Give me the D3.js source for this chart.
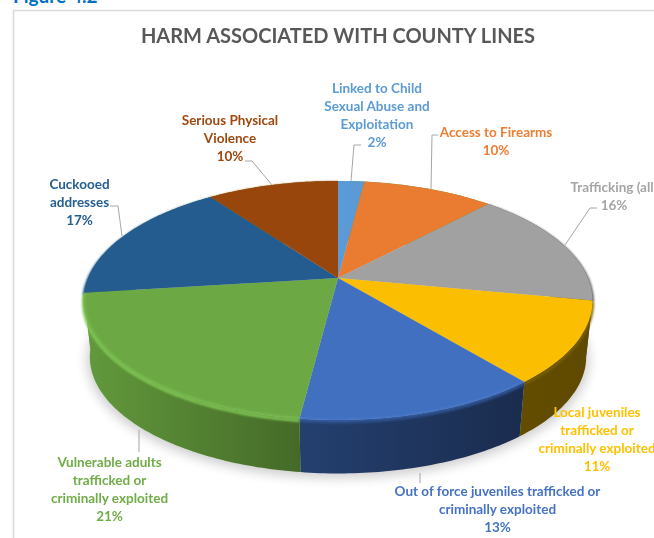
<!DOCTYPE html>
<html><head><meta charset="utf-8">
<script src="https://cdnjs.cloudflare.com/ajax/libs/d3/7.8.5/d3.min.js"></script>
<style>html,body{margin:0;padding:0;background:#fff;overflow:hidden}svg{display:block}text{font-family:Lato,"Open Sans",sans-serif;font-weight:700}</style>
</head><body><svg id="c" width="654" height="538"></svg>
<script>
const categories=["Linked to Child Sexual Abuse and Exploitation","Access to Firearms","Trafficking (all)","Local juveniles trafficked or criminally exploited","Out of force juveniles trafficked or criminally exploited","Vulnerable adults trafficked or criminally exploited","Cuckooed addresses","Serious Physical Violence"];
const values=[2,10,16,11,13,21,17,10];
const topColors=["#5b9ad5","#e97c30","#a1a1a1","#fbbe00","#4170c0","#6ca945","#255c8f","#99460c"];
const sideLight=["#629a3c","#629a3c","#6b6b6b","#614c00","#24406f","#629a3c","#629a3c","#629a3c"];
const sideDark=["#629a3c","#629a3c","#4a4a4a","#5f4a00","#1a2c4e","#456a28","#629a3c","#629a3c"];
const rimColors=["#5b9ad5","#e97c30","#5a5a5a","#7a6000","#2f5190","#82c956","#255c8f","#99460c"];
const labelLines=[["Linked to Child","Sexual Abuse and","Exploitation","2%"],["Access to Firearms","10%"],["Trafficking (all)","16%"],["Local juveniles","trafficked or","criminally exploited","11%"],["Out of force juveniles trafficked or","criminally exploited","13%"],["Vulnerable adults","trafficked or","criminally exploited","21%"],["Cuckooed","addresses","17%"],["Serious Physical","Violence","10%"]];
const labelColors=["#5b9bd5","#ed7d31","#a5a5a5","#ffc000","#4472c4","#70ad47","#255e91","#9e480e"];
const labelAnchors=[[377,93],[496,137],[614,192],[597,417],[497.5,495.5],[109.5,467],[79.5,189],[230,125]];
const leaderPts=[[[361,145],[354,145],[351,181]],[[438,135],[432,135],[431,189]],[[597,208],[590,208],[565,245]],[],[[420,473],[420,483]],[[139,430],[139,452]],[[110,206],[118,206],[122,236]],[[245,161],[252,161],[272,185]]];
const svg=d3.select("#c"),defs=svg.append("defs");
const cx=338,cy=278,A=250,B=115.3,K=0.188,DZ=57,S=0.975;
const proj=(t,s,dz)=>{const X=Math.sin(t),Y=Math.cos(t),w=1+K*Y;return [cx+s*A*X/w,cy+dz-s*B*Y/w];};
const arcs=d3.pie().sort(null).value(d=>d)(values);
const line=d3.line();
const sample=(a,b,s,dz)=>{const n=Math.max(2,Math.ceil((b-a)*60));return d3.range(n+1).map(i=>proj(a+(b-a)*i/n,s,dz));};
const f=defs.append("filter").attr("id","bl").attr("x","-20%").attr("y","-20%").attr("width","140%").attr("height","140%");f.append("feGaussianBlur").attr("stdDeviation",6);
const f2=defs.append("filter").attr("id","soft").attr("filterUnits","userSpaceOnUse").attr("x",0).attr("y",0).attr("width",654).attr("height",538);f2.append("feGaussianBlur").attr("stdDeviation",1.1);
const ft=defs.append("filter").attr("id","tb");ft.append("feGaussianBlur").attr("stdDeviation",0.3);
// frame
svg.append("path").attr("d","M654,10.5H13.5V538").attr("fill","none").attr("stroke","#d9d9d9").attr("stroke-width",1.5);
svg.append("text").attr("x",13).attr("y",3).attr("font-size",19).attr("fill","#0070c0").text("Figure 4.2");
svg.append("text").attr("x",338).attr("y",43).attr("text-anchor","middle").attr("font-size",20).attr("fill","#595959").attr("filter","url(#tb)").text("HARM ASSOCIATED WITH COUNTY LINES");
// shadow
svg.append("path").attr("d",line(sample(0,2*Math.PI,0.985,DZ+3))+"Z").attr("fill","#000").attr("opacity",0.2).attr("filter","url(#bl)");
// sides
arcs.forEach((d,i)=>{
  const id="g"+i,g=defs.append("linearGradient").attr("id",id).attr("gradientUnits","userSpaceOnUse");
  const p0=proj(d.startAngle,1,0),p1=proj(d.endAngle,1,0);
  g.attr("x1",Math.min(p0[0],p1[0])).attr("x2",Math.max(p0[0],p1[0])).attr("y1",0).attr("y2",0);
  g.append("stop").attr("offset",0).attr("stop-color",sideLight[i]);
  g.append("stop").attr("offset",1).attr("stop-color",sideDark[i]);
  const pts=sample(d.startAngle,d.endAngle,1,0).concat(sample(d.startAngle,d.endAngle,S,DZ).reverse());
  svg.append("path").attr("d",line(pts)+"Z").attr("fill",`url(#${id})`);
});
// soft rim shade where the wall meets the top
arcs.forEach((d,i)=>{
  svg.append("path").attr("d",line(sample(d.startAngle,d.endAngle,1,2))).attr("fill","none").attr("stroke",rimColors[i]).attr("stroke-width",3).attr("filter","url(#soft)").attr("opacity",d.endAngle<1.5?0:0.95);
});
// top
arcs.forEach((d,i)=>{
  const pts=[[cx,cy]].concat(sample(d.startAngle,d.endAngle,1,0));
  svg.append("path").attr("d",line(pts)+"Z").attr("fill",topColors[i]);
});
// highlight along the front edge of the top face
arcs.forEach((d,i)=>{
  if(i!==5&&i!==4) return;
  svg.append("path").attr("d",line(sample(d.startAngle,d.endAngle,0.998,0))).attr("fill","none").attr("stroke",i===5?"#82c956":"#4d7fd0").attr("stroke-width",1.5).attr("opacity",0.85).attr("filter","url(#soft)");
});
// leaders
leaderPts.forEach(p=>{if(p.length)svg.append("path").attr("d",line(p)).attr("fill","none").attr("stroke","#a6a6a6").attr("stroke-width",1);});
// labels
labelLines.forEach((ls,i)=>{
  const t=svg.append("text").attr("text-anchor","middle").attr("font-size",13.5).attr("fill",labelColors[i]).attr("filter","url(#tb)");
  ls.forEach((l,j)=>t.append("tspan").attr("x",labelAnchors[i][0]).attr("y",labelAnchors[i][1]+j*18).text(l));
});
</script></body></html>
